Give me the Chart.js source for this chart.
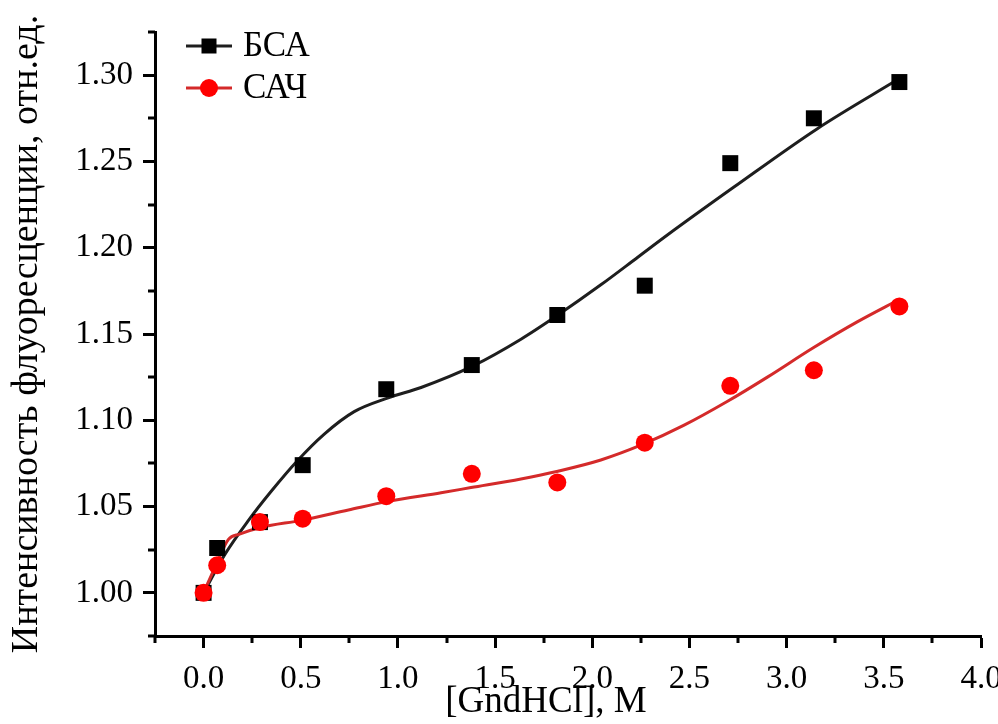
<!DOCTYPE html>
<html>
<head>
<meta charset="utf-8">
<script src="https://cdn.jsdelivr.net/npm/chart.js@4"></script>
<style>
  html, body { margin: 0; padding: 0; background: #fff; }
  #wrap { width: 998px; height: 724px; position: relative; }
  .fontprobe { position: absolute; left: -9999px; top: 0; font-family: "Liberation Serif", "DejaVu Serif", serif; }
</style>
</head>
<body>
<div id="wrap"><canvas id="chart"></canvas></div>
<span class="fontprobe">1.30 БСА САЧ</span>
<script>
// --- измеренные точки ---
const gndConc = [0, 0.07, 0.29, 0.51, 0.94, 1.38, 1.82, 2.27, 2.71, 3.14, 3.58];
const bsaValues = [1.000, 1.026, 1.041, 1.074, 1.118, 1.132, 1.161, 1.178, 1.249, 1.275, 1.296];
const hsaValues = [1.000, 1.016, 1.041, 1.043, 1.056, 1.069, 1.064, 1.087, 1.120, 1.129, 1.166];

// --- аппроксимирующие кривые ---
const bsaFitX = [0, 0.108, 0.231, 0.349, 0.478, 0.621, 0.775, 0.950, 1.119, 1.386, 1.633, 1.823, 2.044, 2.234, 2.388, 2.727, 3.158, 3.58];
const bsaFitY = [1.000, 1.022, 1.042, 1.059, 1.076, 1.092, 1.105, 1.113, 1.119, 1.1315, 1.147, 1.161, 1.1785, 1.1945, 1.2075, 1.235, 1.269, 1.298];
const hsaFitX = [0, 0.067, 0.128, 0.185, 0.298, 0.503, 0.745, 0.950, 1.222, 1.376, 1.633, 1.823, 2.044, 2.259, 2.470, 2.696, 2.901, 3.137, 3.363, 3.58];
const hsaFitY = [1.000, 1.017, 1.031, 1.034, 1.038, 1.042, 1.048, 1.053, 1.058, 1.061, 1.066, 1.0705, 1.077, 1.086, 1.097, 1.111, 1.125, 1.142, 1.157, 1.170];

// --- оси ---
const xTicks = [0, 0.5, 1, 1.5, 2, 2.5, 3, 3.5, 4];
const xTickLabels = ['0.0', '0.5', '1.0', '1.5', '2.0', '2.5', '3.0', '3.5', '4.0'];
const xMinorTicks = [-0.25, 0.25, 0.75, 1.25, 1.75, 2.25, 2.75, 3.25, 3.75];
const yTicks = [1.00, 1.05, 1.10, 1.15, 1.20, 1.25, 1.30];
const yTickLabels = ['1.00', '1.05', '1.10', '1.15', '1.20', '1.25', '1.30'];
const yMinorTicks = [0.975, 1.025, 1.075, 1.125, 1.175, 1.225, 1.275, 1.325];

const seriesNames = ['БСА', 'САЧ'];
const xTitle = '[GndHCl], М';
const yTitle = 'Интенсивность флуоресценции, отн.ед.';

const FONT = '"Liberation Serif", "DejaVu Serif", serif';
const toPts = (xs, ys) => xs.map((x, i) => ({ x: x, y: ys[i] }));

// малые засечки, подпись оси X и легенда
const extras = {
    id: 'extras',
    afterDraw(chart) {
        const ctx = chart.ctx;
        const area = chart.chartArea;
        const xs = chart.scales.x, ys = chart.scales.y;
        ctx.save();
        ctx.strokeStyle = '#000';
        ctx.lineWidth = 3;
        ctx.beginPath();
        xMinorTicks.forEach(v => {
            const px = Math.round(xs.getPixelForValue(v));
            ctx.moveTo(px, area.bottom);
            ctx.lineTo(px, area.bottom + 7);
        });
        yMinorTicks.forEach(v => {
            const py = Math.round(ys.getPixelForValue(v));
            ctx.moveTo(area.left, py);
            ctx.lineTo(area.left - 7, py);
        });
        ctx.stroke();

        // подпись оси X
        ctx.fillStyle = '#000';
        ctx.font = '37px ' + FONT;
        ctx.textAlign = 'center';
        ctx.textBaseline = 'alphabetic';
        ctx.fillText(xTitle, (area.left + area.right) / 2 - 22, 712);

        // легенда
        const entries = chart.data.datasets.filter(d => d.legend);
        entries.forEach((d, i) => {
            const y = area.top + 14 + i * 42;
            const x0 = area.left + 31, x1 = area.left + 77;
            ctx.strokeStyle = d.lineColor;
            ctx.lineWidth = 3;
            ctx.beginPath();
            ctx.moveTo(x0, y);
            ctx.lineTo(x1, y);
            ctx.stroke();
            ctx.fillStyle = d.backgroundColor;
            const cx = (x0 + x1) / 2;
            if (d.pointStyle === 'rect') {
                ctx.fillRect(cx - 7.5, y - 7.5, 15, 15);
            } else {
                ctx.beginPath();
                ctx.arc(cx, y, 9, 0, Math.PI * 2);
                ctx.fill();
            }
            ctx.fillStyle = '#000';
            ctx.font = '35px ' + FONT;
            ctx.textAlign = 'left';
            ctx.textBaseline = 'middle';
            ctx.fillText(d.label, x1 + 11, y + 1);
        });
        ctx.restore();
    }
};

function buildChart() {
    const ctx = document.getElementById('chart').getContext('2d');
    new Chart(ctx, {
        type: 'scatter',
        data: {
            datasets: [
                { label: seriesNames[0], legend: true, lineColor: '#1e1e1e', data: toPts(gndConc, bsaValues),
                  pointStyle: 'rect', pointRadius: 11.3, backgroundColor: '#000000', borderWidth: 0, showLine: false, order: 1 },
                { label: seriesNames[1], legend: true, lineColor: '#d42a2a', data: toPts(gndConc, hsaValues),
                  pointStyle: 'circle', pointRadius: 9, backgroundColor: '#ff0000', borderWidth: 0, showLine: false, order: 0 },
                { label: 'fit2', data: toPts(hsaFitX, hsaFitY), showLine: true, pointRadius: 0,
                  borderColor: '#d42a2a', borderWidth: 3, cubicInterpolationMode: 'monotone', order: 2 },
                { label: 'fit1', data: toPts(bsaFitX, bsaFitY), showLine: true, pointRadius: 0,
                  borderColor: '#1e1e1e', borderWidth: 3, cubicInterpolationMode: 'monotone', order: 3 }
            ]
        },
        options: {
            responsive: true,
            maintainAspectRatio: false,
            animation: false,
            layout: { padding: { left: 0, right: 17, top: 32, bottom: 0 } },
            plugins: {
                legend: { display: false },
                tooltip: { enabled: false }
            },
            scales: {
                x: {
                    type: 'linear',
                    min: -0.25,
                    max: 4.0,
                    afterBuildTicks: s => { s.ticks = xTicks.map(v => ({ value: v })); },
                    afterFit: s => { s.height = 88; s.paddingLeft = 0; s.paddingRight = 0; },
                    ticks: {
                        callback: (v, i) => xTickLabels[i],
                        font: { family: FONT, size: 33 },
                        color: '#000',
                        padding: 12,
                        maxRotation: 0,
                        autoSkip: false
                    },
                    grid: { drawOnChartArea: false, drawTicks: true, tickLength: 12, tickWidth: 3, tickColor: '#000' },
                    border: { display: true, color: '#000', width: 3 }
                },
                y: {
                    type: 'linear',
                    min: 0.975,
                    max: 1.325,
                    afterBuildTicks: s => { s.ticks = yTicks.map(v => ({ value: v })); },
                    afterFit: s => { s.width = 155; s.paddingTop = 0; s.paddingBottom = 0; },
                    ticks: {
                        callback: (v, i) => yTickLabels[i],
                        font: { family: FONT, size: 33 },
                        color: '#000',
                        padding: 10,
                        autoSkip: false
                    },
                    grid: { drawOnChartArea: false, drawTicks: true, tickLength: 12, tickWidth: 3, tickColor: '#000' },
                    border: { display: true, color: '#000', width: 3 },
                    title: {
                        display: true,
                        text: yTitle,
                        font: { family: FONT, size: 38 },
                        color: '#000',
                        padding: { top: 4, bottom: 0 }
                    }
                }
            }
        },
        plugins: [extras]
    });
}

if (document.fonts && document.fonts.load) {
    Promise.all([
        document.fonts.load('33px "Liberation Serif"', '1.30 БСА'),
        document.fonts.load('33px "DejaVu Serif"', '1.30')
    ]).then(buildChart, buildChart);
} else {
    buildChart();
}
</script>
</body>
</html>
